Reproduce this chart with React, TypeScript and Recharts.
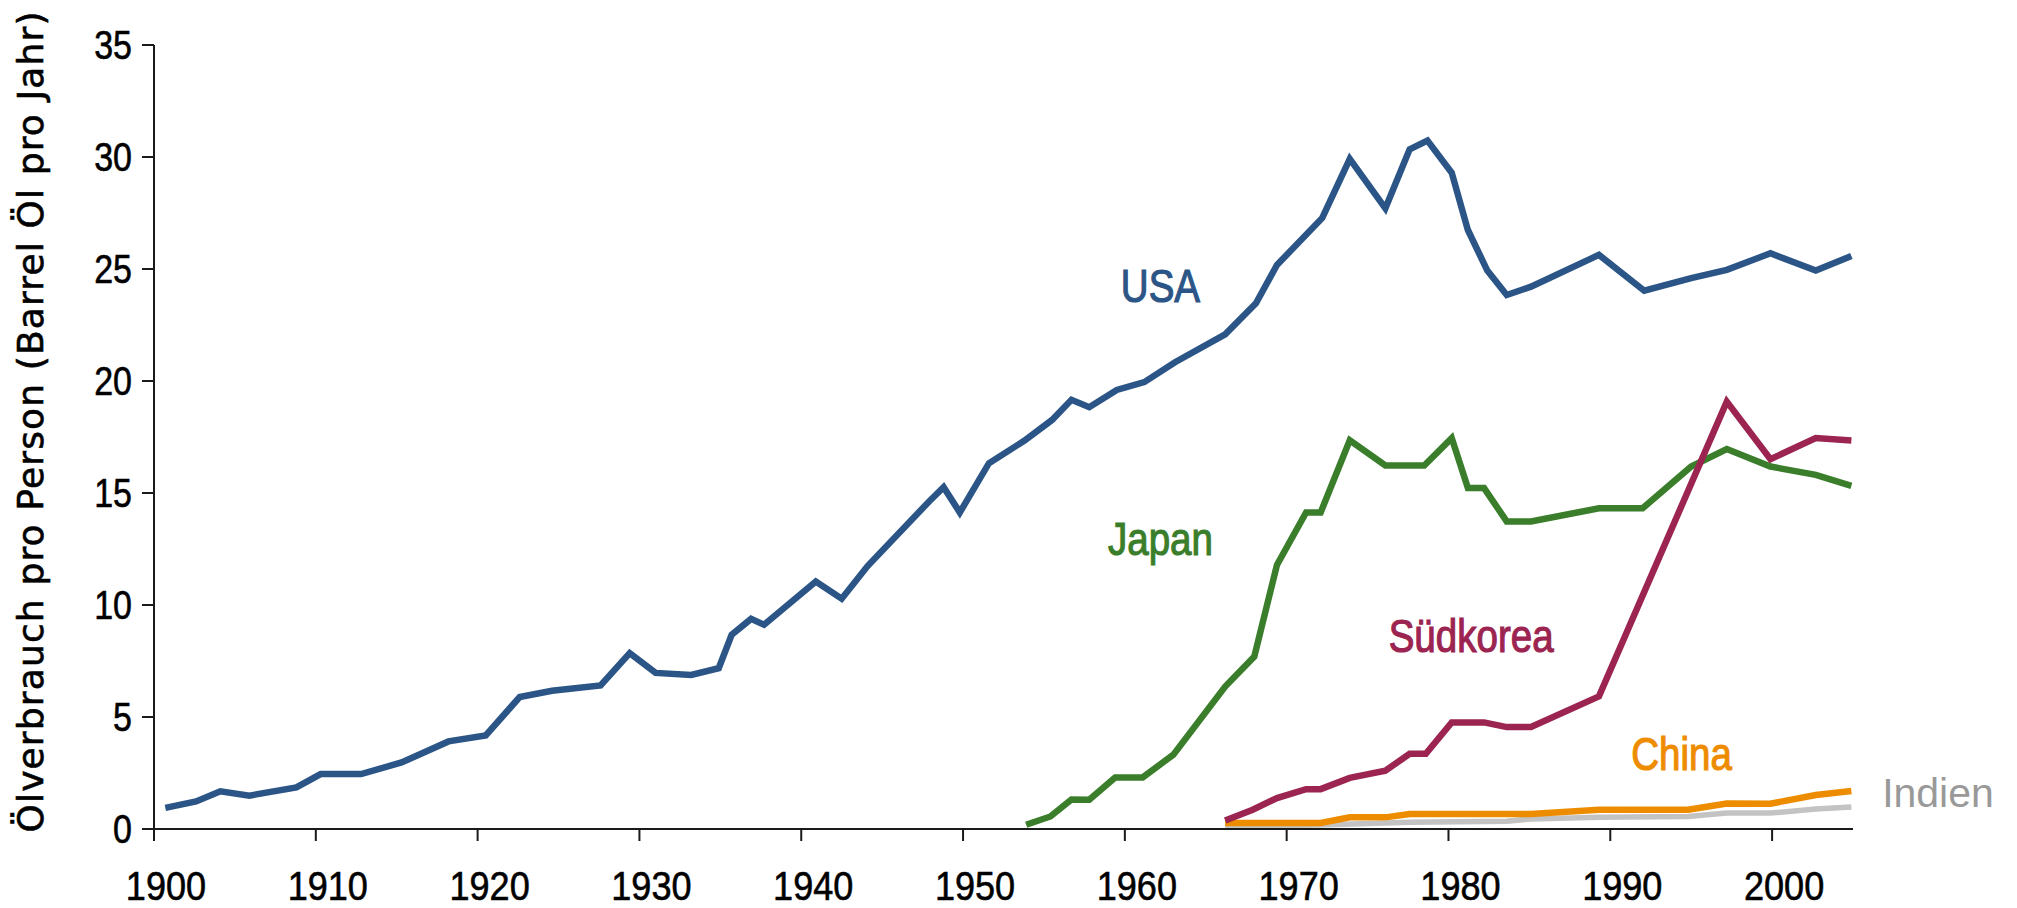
import React from "react";
import { LineChart, Line, XAxis, YAxis, ReferenceDot } from "recharts";

// Ölverbrauch pro Person, Barrel pro Jahr
const usaYears = [
  1900.7, 1902.6, 1904.1, 1905.9, 1908.8, 1910.3, 1912.8, 1915.3, 1918.2, 1920.5,
  1922.6, 1924.6, 1927.6, 1929.4, 1931.0, 1933.2, 1934.9, 1935.7, 1936.9, 1937.7,
  1940.9, 1942.5, 1944.1, 1947.9, 1948.8, 1949.8, 1951.6, 1953.8, 1955.5, 1956.7,
  1957.8, 1959.5, 1961.2, 1963.1, 1966.2, 1968.1, 1969.4, 1972.2, 1973.9, 1976.1,
  1977.6, 1978.7, 1980.2, 1981.2, 1982.4, 1983.6, 1985.1, 1989.3, 1992.1, 1995.0,
  1997.2, 1999.9, 2002.7, 2004.9,
];
const usaValues = [
  0.94, 1.23, 1.68, 1.49, 1.86, 2.45, 2.45, 2.97, 3.91, 4.18,
  5.89, 6.17, 6.41, 7.85, 6.97, 6.88, 7.18, 8.67, 9.38, 9.12,
  11.05, 10.28, 11.74, 14.62, 15.26, 14.13, 16.33, 17.34, 18.26, 19.16,
  18.83, 19.6, 19.95, 20.84, 22.08, 23.47, 25.18, 27.28, 29.92, 27.71,
  30.34, 30.73, 29.3, 26.74, 24.93, 23.84, 24.21, 25.63, 24.03, 24.59,
  24.96, 25.7, 24.93, 25.58,
];

const japanYears = [
  1953.9, 1955.4, 1956.7, 1957.8, 1959.4, 1961.1, 1963.0, 1966.2, 1968.0, 1969.4,
  1971.2, 1972.1, 1973.9, 1976.1, 1978.5, 1980.2, 1981.2, 1982.2, 1983.6, 1985.1,
  1989.3, 1992.0, 1995.0, 1997.2, 1999.9, 2002.7, 2004.9,
];
const japanValues = [
  0.19, 0.56, 1.32, 1.31, 2.3, 2.3, 3.32, 6.36, 7.7, 11.79,
  14.13, 14.13, 17.35, 16.23, 16.23, 17.45, 15.22, 15.22, 13.73, 13.73,
  14.32, 14.32, 16.18, 16.96, 16.18, 15.81, 15.32,
];

const koreaYears = [
  1966.2, 1967.9, 1969.4, 1971.2, 1972.1, 1973.9, 1976.1, 1977.6, 1978.6, 1980.2,
  1982.2, 1983.6, 1985.1, 1989.3, 1997.2, 1999.9, 2002.7, 2004.9,
];
const koreaValues = [
  0.38, 0.86, 1.38, 1.78, 1.78, 2.28, 2.6, 3.36, 3.36, 4.76,
  4.76, 4.55, 4.55, 5.92, 19.08, 16.51, 17.45, 17.34,
];

const chinaYears = [
  1966.2, 1972.1, 1973.9, 1976.1, 1977.6, 1985.1, 1989.3, 1994.8, 1997.2, 1999.9,
  2002.7, 2004.9,
];
const chinaValues = [0.27, 0.27, 0.52, 0.52, 0.67, 0.67, 0.86, 0.86, 1.14, 1.13, 1.52, 1.7];

const indiaYears = [
  1966.2, 1972.1, 1977.6, 1983.6, 1985.1, 1989.3, 1994.8, 1997.2, 1999.9, 2002.7,
  2004.9,
];
const indiaValues = [0.12, 0.18, 0.3, 0.35, 0.45, 0.52, 0.56, 0.71, 0.71, 0.89, 0.98];

const xTicks = [1900, 1910, 1920, 1930, 1940, 1950, 1960, 1970, 1980, 1990, 2000];
const yTicks = [0, 5, 10, 15, 20, 25, 30, 35];

// in-chart series names: anchor year / baseline value
const labelNames = ["USA", "Japan", "Südkorea", "China", "Indien"];
const labelYears = [1962.2, 1962.2, 1981.4, 1994.4, 2006.8];
const labelValues = [23.54, 12.24, 7.92, 2.65, 0.99];

const toPoints = (years: number[], values: number[]) =>
  years.map((year, i) => ({ year, value: values[i] }));

const sans = "'Liberation Sans', Arial, sans-serif";

const series = [
  { name: "Indien", color: "#c3c3c3", data: toPoints(indiaYears, indiaValues) },
  { name: "China", color: "#ee8c00", data: toPoints(chinaYears, chinaValues) },
  { name: "Japan", color: "#3a7e2b", data: toPoints(japanYears, japanValues) },
  { name: "Südkorea", color: "#9c2450", data: toPoints(koreaYears, koreaValues) },
  { name: "USA", color: "#2b5586", data: toPoints(usaYears, usaValues) },
];

const labelColors: Record<string, string> = {
  USA: "#2b5586",
  Japan: "#3a7e2b",
  Südkorea: "#9c2450",
  China: "#ee8c00",
  Indien: "#999999",
};

// no condensed face installed, so squeeze Liberation Sans horizontally
const NarrowText = ({ x, y, anchor, size, fill, dy, squeeze = 0.82, weight = 0.6, children }: any) => (
  <text
    transform={`translate(${x},${y}) scale(${squeeze},1)`}
    dy={dy}
    textAnchor={anchor}
    fill={fill}
    stroke={fill}
    strokeWidth={weight}
    fontSize={size}
    fontFamily={sans}
  >
    {children}
  </text>
);

const XTick = (props: any) => {
  const { x, y, payload } = props;
  return (
    <NarrowText x={x + 12} y={y} dy="0.71em" anchor="middle" size={41} fill="#000" squeeze={0.88}>
      {payload.value}
    </NarrowText>
  );
};

const YTick = (props: any) => {
  const { x, y, payload } = props;
  return (
    <NarrowText x={x} y={y} dy="0.355em" anchor="end" size={40} fill="#000" squeeze={0.85}>
      {payload.value}
    </NarrowText>
  );
};

const YTitle = (props: any) => {
  const vb = props.viewBox;
  const cx = vb.x + 43;
  const cy = vb.y + vb.height / 2 - 15;
  return (
    <text
      transform={`translate(${cx},${cy}) rotate(-90)`}
      textAnchor="middle"
      fill="#000"
      stroke="#000"
      strokeWidth={0.6}
      fontSize={36}
      fontFamily="'DejaVu Sans', sans-serif"
      textLength={821}
      lengthAdjust="spacing"
    >
      Ölverbrauch pro Person (Barrel Öl pro Jahr)
    </text>
  );
};

export default function App() {
  return (
    <div style={{ width: 2017, height: 908, background: "#fff" }}>
      <style>{"body{margin:0}"}</style>
      <LineChart width={2017} height={908} margin={{ top: 45, right: 164, bottom: 0, left: 0 }}>
        <XAxis
          type="number"
          dataKey="year"
          domain={[1900, 2005]}
          ticks={xTicks}
          allowDataOverflow
          height={79}
          tickSize={12}
          tickMargin={30}
          axisLine={{ stroke: "#1a1a1a", strokeWidth: 2 }}
          tickLine={{ stroke: "#1a1a1a", strokeWidth: 2 }}
          tick={<XTick />}
        />
        <YAxis
          type="number"
          dataKey="value"
          domain={[0, 35]}
          ticks={yTicks}
          width={154}
          tickSize={12}
          tickMargin={10}
          axisLine={{ stroke: "#1a1a1a", strokeWidth: 2 }}
          tickLine={{ stroke: "#1a1a1a", strokeWidth: 2 }}
          tick={<YTick />}
          label={{ content: <YTitle /> }}
        />
        {series.map((s) => (
          <Line
            key={s.name}
            data={s.data}
            dataKey="value"
            type="linear"
            stroke={s.color}
            strokeWidth={s.name === "Indien" ? 5.5 : 6.5}
            strokeLinejoin="miter"
            dot={false}
            activeDot={false}
            isAnimationActive={false}
          />
        ))}
        {labelNames.map((name, i) => (
          <ReferenceDot
            key={name}
            x={labelYears[i]}
            y={labelValues[i]}
            r={0}
            ifOverflow="visible"
            shape={(p: any) =>
              name === "Indien" ? (
                <text x={p.cx} y={p.cy} textAnchor="start" fill={labelColors[name]} fontSize={41} fontFamily={sans}>
                  {name}
                </text>
              ) : (
                <NarrowText x={p.cx} y={p.cy} anchor="middle" size={47} fill={labelColors[name]} weight={1.2}>
                  {name}
                </NarrowText>
              )
            }
          />
        ))}
      </LineChart>
    </div>
  );
}
